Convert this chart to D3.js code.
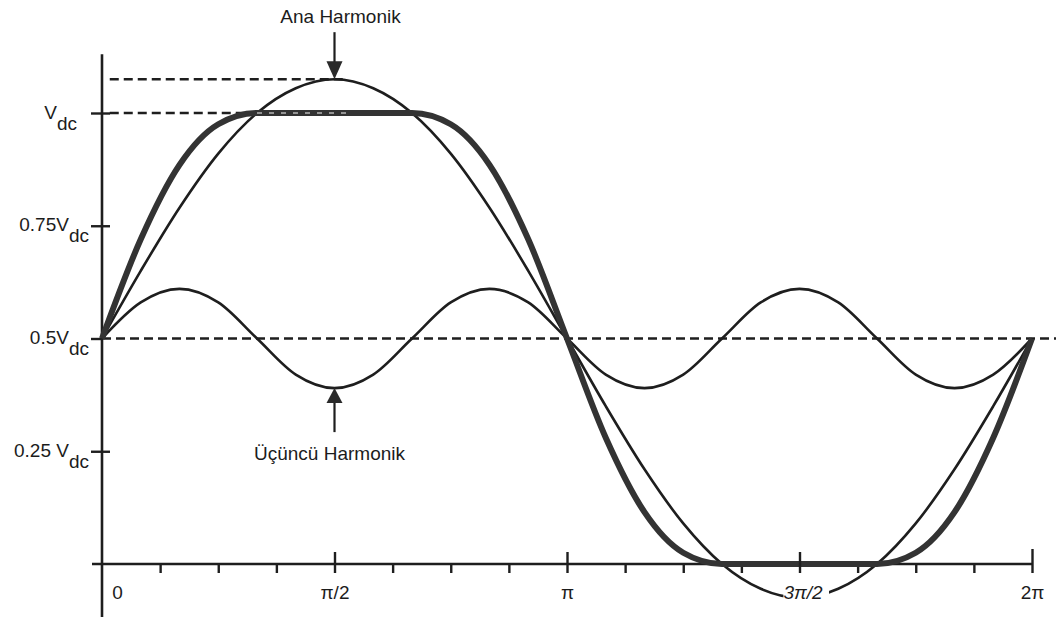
<!DOCTYPE html>
<html><head><meta charset="utf-8">
<script src="https://cdn.jsdelivr.net/npm/d3@7"></script>
<style>
body{margin:0;background:#fff}
svg{display:block}
text{font-family:"Liberation Sans",Arial,sans-serif;fill:#1c1c1c}
</style>
</head><body>
<svg id="chart" width="1056" height="617"></svg>
<script>
// ---- data (angle in degrees, values in units of Vdc) ----
const anglesDeg = [0,15,30,45,60,75,90,105,120,135,150,165,180,195,210,225,240,255,270,285,300,315,330,345,360];
const fundamental = [0.50,0.65,0.79,0.91,1.00,1.055,1.075,1.055,1.00,0.91,0.79,0.65,0.50,0.35,0.21,0.09,0.00,-0.055,-0.075,-0.055,0.00,0.09,0.21,0.35,0.50];
const thirdHarmonic = [0.50,0.58,0.61,0.58,0.50,0.42,0.39,0.42,0.50,0.58,0.61,0.58,0.50,0.42,0.39,0.42,0.50,0.58,0.61,0.58,0.50,0.42,0.39,0.42,0.50];
const modulating = [0.50,0.72,0.885,0.975,1.00,1.00,1.00,1.00,1.00,0.975,0.885,0.72,0.50,0.28,0.115,0.025,0.00,0.00,0.00,0.00,0.00,0.025,0.115,0.28,0.50];

const xTickValues = [0,90,180,270,360];
const xTickLabels = ["0","π/2","π","3π/2","2π"];
const xMinorTicks = [22.5,45,67.5,112.5,135,157.5,202.5,225,247.5,292.5,315,337.5];
const yTickValues = [0.25,0.5,0.75,1];
const yTickNumbers = ["0.25 ","0.5","0.75",""];
const yTickSub = "dc";

// reference (dashed) lines: level, from angle, to angle
const refLevels = [1.075, 1.0, 0.5];
const refFrom = [3, 3, 0];
const refTo = [95, 95, 370];

const annTop = {text:"Ana Harmonik", angle:90, value:1.075};
const annBottom = {text:"Üçüncü Harmonik", angle:90, value:0.39};

// ---- scales ----
const svg = d3.select("#chart");
const W = 1056, H = 617;
const x = d3.scaleLinear().domain([0,360]).range([102,1032]);
const y = d3.scaleLinear().domain([0,1]).range([564,113]);
const ink = "#1e1e1e";

// ---- axes ----
const axG = svg.append("g");
axG.append("line").attr("x1",x(0)).attr("x2",x(0)).attr("y1",y(1.13)).attr("y2",H)
  .attr("stroke",ink).attr("stroke-width",2.6);
axG.append("line").attr("x1",x(0)-10).attr("x2",x(360)).attr("y1",y(0)).attr("y2",y(0))
  .attr("stroke",ink).attr("stroke-width",2.6);

// minor x ticks
const minorG = svg.append("g").attr("transform",`translate(0,${y(0)})`)
  .call(d3.axisBottom(x).tickValues(xMinorTicks).tickSize(9).tickFormat(""));
minorG.select(".domain").remove();
minorG.selectAll("line").attr("stroke",ink).attr("stroke-width",2.4);

// major x ticks
const majorG = svg.append("g").attr("transform",`translate(0,${y(0)})`)
  .call(d3.axisBottom(x).tickValues(xTickValues).tickSize(9).tickFormat((d,i)=>xTickLabels[i]));
majorG.select(".domain").remove();
majorG.selectAll(".tick line")
  .attr("y1",d=>d===360?-15:-12)
  .attr("stroke",ink).attr("stroke-width",2.4)
  .attr("display",d=>d===0?"none":null);
majorG.selectAll(".tick text")
  .attr("y",35).attr("dy",0)
  .attr("dx",d=>d===0?15:(d===270?3:0))
  .attr("font-size",19)
  .attr("font-style",d=>d===270?"italic":"normal")
  .attr("fill",ink)
  .attr("font-family",'"Liberation Sans",Arial,sans-serif');

// y ticks
const yG = svg.append("g").attr("transform",`translate(${x(0)},0)`)
  .call(d3.axisLeft(y).tickValues(yTickValues).tickSize(11).tickFormat(""));
yG.select(".domain").remove();
yG.selectAll(".tick line").attr("x2",-11).attr("x1",d=>d===0.5?0:8)
  .attr("stroke",ink).attr("stroke-width",2.4);
yG.selectAll(".tick").each(function(d,i){
  const t = d3.select(this).append("text")
    .attr("x",d===1?-25:-13).attr("y",5).attr("text-anchor","end")
    .attr("font-size",19).attr("fill",ink)
    .attr("font-family",'"Liberation Sans",Arial,sans-serif');
  t.append("tspan").text(yTickNumbers[i]+"V");
  t.append("tspan").attr("dy",11).text(yTickSub);
});

// ---- dashed reference lines ----
refLevels.forEach((lv,i)=>{
  svg.append("line")
    .attr("x1",x(refFrom[i])).attr("x2",x(refTo[i]))
    .attr("y1",y(lv)).attr("y2",y(lv))
    .attr("stroke",ink).attr("stroke-width",2.6)
    .attr("stroke-dasharray","9,5");
});

// ---- curves ----
const pts = arr => anglesDeg.map((a,i)=>[a,arr[i]]);
const line = d3.line().x(d=>x(d[0])).y(d=>y(d[1])).curve(d3.curveMonotoneX);

svg.append("path").attr("d",line(pts(fundamental)))
  .attr("fill","none").attr("stroke",ink).attr("stroke-width",2.6);
svg.append("path").attr("d",line(pts(thirdHarmonic)))
  .attr("fill","none").attr("stroke",ink).attr("stroke-width",2.6);
svg.append("path").attr("d",line(pts(modulating)))
  .attr("fill","none").attr("stroke","#333").attr("stroke-width",6)
  .attr("stroke-linejoin","round");

// dashed Vdc line seen through the thick flat part
svg.append("line")
  .attr("x1",x(60)).attr("x2",x(refTo[1]))
  .attr("y1",y(1)).attr("y2",y(1))
  .attr("stroke","#b5b5b5").attr("stroke-width",1.6)
  .attr("stroke-dasharray","5,7");

// white background behind x tick labels (the 3π/2 label breaks the curve)
majorG.raise();
majorG.selectAll(".tick").each(function(){
  const tx = d3.select(this).select("text");
  const bb = tx.node().getBBox();
  const dx = +tx.attr("dx") || 0;
  d3.select(this).insert("rect","text")
    .attr("x",bb.x+dx-3).attr("y",bb.y+1).attr("width",bb.width+6).attr("height",bb.height-2)
    .attr("fill","#fff");
});

// ---- annotations ----
function arrowDown(cx, tipY){
  svg.append("line").attr("x1",cx).attr("x2",cx).attr("y1",tipY-47).attr("y2",tipY-15)
    .attr("stroke",ink).attr("stroke-width",2.2);
  svg.append("path").attr("d",`M${cx},${tipY} L${cx-8},${tipY-18} L${cx+8},${tipY-18} Z`)
    .attr("fill","#2a2a2a");
}
function arrowUp(cx, tipY){
  svg.append("line").attr("x1",cx).attr("x2",cx).attr("y1",tipY+12).attr("y2",tipY+44)
    .attr("stroke",ink).attr("stroke-width",2.2);
  svg.append("path").attr("d",`M${cx},${tipY} L${cx-8},${tipY+15} L${cx+8},${tipY+15} Z`)
    .attr("fill","#2a2a2a");
}
const ax1 = x(annTop.angle), ty1 = y(annTop.value);
arrowDown(ax1, ty1);
svg.append("text").attr("x",ax1+6).attr("y",ty1-56).attr("text-anchor","middle")
  .attr("font-size",19).text(annTop.text);

const ax2 = x(annBottom.angle), ty2 = y(annBottom.value);
arrowUp(ax2, ty2);
svg.append("text").attr("x",ax2-5).attr("y",ty2+72).attr("text-anchor","middle")
  .attr("font-size",19).text(annBottom.text);
</script>
</body></html>
